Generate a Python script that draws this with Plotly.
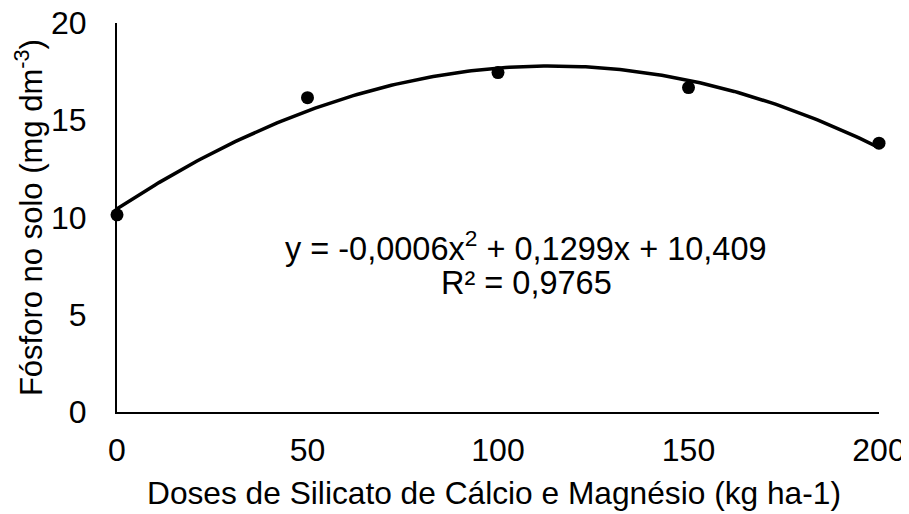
import numpy as np
import plotly.graph_objects as go

doses = [0, 50, 100, 150, 200]
fosforo = [10.14, 16.16, 17.45, 16.68, 13.82]
x_ticks = [0, 50, 100, 150, 200]
y_ticks = [0, 5, 10, 15, 20]
eq_line1 = "y = -0,0006x<sup>2</sup> + 0,1299x + 10,409"
eq_line2 = "R² = 0,9765"
x_title = "Doses de Silicato de Cálcio e Magnésio (kg ha-1)"
y_title = "Fósforo no solo (mg dm<sup>-3</sup>)"

coef = np.polyfit(doses, fosforo, 2)
xs = np.linspace(0, 200, 201)
ys = np.polyval(coef, xs)

font = "Liberation Sans, Arial, sans-serif"
fig = go.Figure()
fig.add_trace(go.Scatter(x=xs, y=ys, mode="lines",
                         line=dict(color="black", width=3.5), hoverinfo="skip",
                         showlegend=False, cliponaxis=False))
fig.add_trace(go.Scatter(x=doses, y=fosforo, mode="markers",
                         marker=dict(color="black", size=13), showlegend=False,
                         cliponaxis=False))
fig.add_annotation(x=107.4, y=8.55, xref="x", yref="y", text=eq_line1,
                   showarrow=False, font=dict(family=font, size=32.5, color="black"))
fig.add_annotation(x=107.4, y=6.65, xref="x", yref="y", text=eq_line2,
                   showarrow=False, font=dict(family=font, size=32.5, color="black"))
fig.add_annotation(x=0.495, y=-0.209, xref="paper", yref="paper", text=x_title,
                   showarrow=False, xanchor="center", yanchor="middle",
                   font=dict(family=font, size=31.7, color="black"))
fig.add_annotation(x=-0.116, y=0.5, xref="paper", yref="paper", text=y_title,
                   showarrow=False, textangle=-90, xanchor="center", yanchor="middle",
                   font=dict(family=font, size=31, color="black"))
fig.update_layout(
    width=901, height=506,
    margin=dict(l=109, r=30, t=15, b=101.5),
    paper_bgcolor="white", plot_bgcolor="white",
    font=dict(family=font, size=32, color="black"),
)
fig.update_xaxes(range=[0, 200], tickvals=x_ticks, showgrid=False, zeroline=False,
                 showline=True, linecolor="black", linewidth=2, automargin=False,
                 ticks="outside", ticklen=9, tickcolor="rgba(0,0,0,0)",
                 ticklabeloverflow="allow",
                 tickfont=dict(family=font, size=32, color="black"))
fig.update_yaxes(range=[0, 20], tickvals=y_ticks, showgrid=False, zeroline=False,
                 showline=True, linecolor="black", linewidth=2, automargin=False,
                 ticks="outside", ticklen=22, tickcolor="rgba(0,0,0,0)",
                 ticklabeloverflow="allow",
                 tickfont=dict(family=font, size=32, color="black"))
fig.write_html("out.html")
